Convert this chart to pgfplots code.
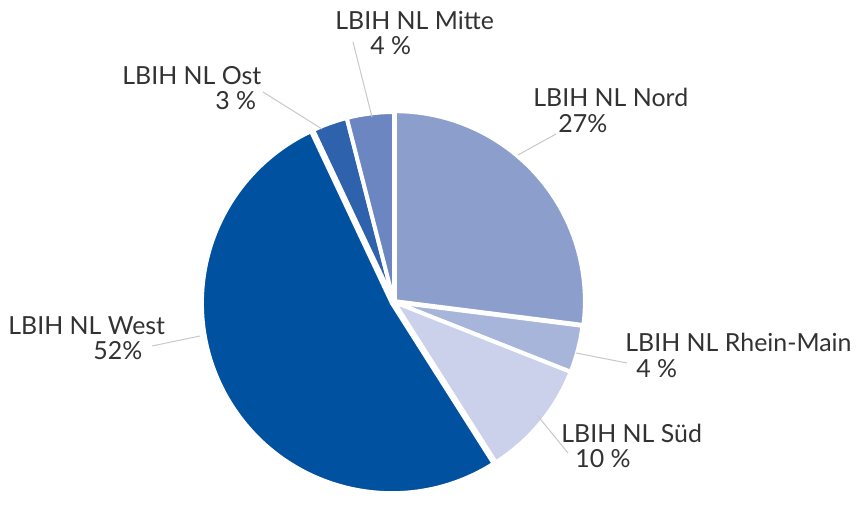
\documentclass[border=0pt]{standalone}
\usepackage{fontspec}
\setmainfont{Lato}
\usepackage{pgfplots}
\pgfplotsset{compat=1.18}

\definecolor{cNord}{RGB}{140,158,204}
\definecolor{cRhein}{RGB}{168,181,218}
\definecolor{cSued}{RGB}{203,209,234}
\definecolor{cWest}{RGB}{0,82,160}
\definecolor{cOst}{RGB}{47,98,173}
\definecolor{cMitte}{RGB}{107,134,193}
\definecolor{txt}{RGB}{50,50,50}
\definecolor{lead}{RGB}{200,200,200}

\begin{document}
\begin{tikzpicture}
\begin{axis}[
  x=0.5bp, y=0.5bp,
  xmin=0, xmax=856, ymin=0, ymax=491,
  y dir=reverse,
  hide axis, clip=false,
]
% fixed frame = page
\path (axis cs:0,0) rectangle (axis cs:856,491);
% slices, clockwise from the top: share in percent / colour / pulled out
\pgfplotsextra{
  \gdef\angA{90}
  \foreach \p/\c/\dx in {27/cNord/0.3, 4/cRhein/0, 10/cSued/0, 52/cWest/0.6, 3/cOst/0, 4/cMitte/0}{
    \pgfmathsetmacro\angB{\angA-3.6*\p}
    \pgfmathsetmacro\mid{(\angA+\angB)/2}
    \fill[\c, draw=white, line width=2bp, line join=round]
      ([shift={(\mid:\dx*2bp)}]axis cs:394,302) -- ++(\angA:95bp)
      arc[start angle=\angA, end angle=\angB, radius=95bp] -- cycle;
    \xdef\angA{\angB}
  }
}
% leader lines
\draw[lead, line width=0.5bp] (axis cs:372,117) -- (axis cs:353,42);
\draw[lead, line width=0.5bp] (axis cs:322,129) -- (axis cs:263,92);
\draw[lead, line width=0.5bp] (axis cs:200,336) -- (axis cs:152,346);
\draw[lead, line width=0.5bp] (axis cs:576,353) -- (axis cs:627,363);
\draw[lead, line width=0.5bp] (axis cs:537,415) -- (axis cs:568,453);
\draw[lead, line width=0.5bp] (axis cs:518,155) -- (axis cs:556,134);
% labels
\begin{scope}[every node/.style={anchor=base west, inner sep=0pt, text=txt, font=\fontsize{12.5}{14}\selectfont}]
\node at (axis cs:335,30) {LBIH NL Mitte};
\node at (axis cs:370,55) {4 \%};
\node at (axis cs:533,107) {LBIH NL Nord};
\node at (axis cs:558,133) {27\%};
\node at (axis cs:625,352) {LBIH NL Rhein-Main};
\node at (axis cs:636,378) {4 \%};
\node at (axis cs:561,443) {LBIH NL Süd};
\node at (axis cs:575,468) {10 \%};
\node at (axis cs:8,335) {LBIH NL West};
\node at (axis cs:93,360) {52\%};
\node at (axis cs:122,85) {LBIH NL Ost};
\node at (axis cs:215,110) {3 \%};
\end{scope}
\end{axis}
\end{tikzpicture}
\end{document}
